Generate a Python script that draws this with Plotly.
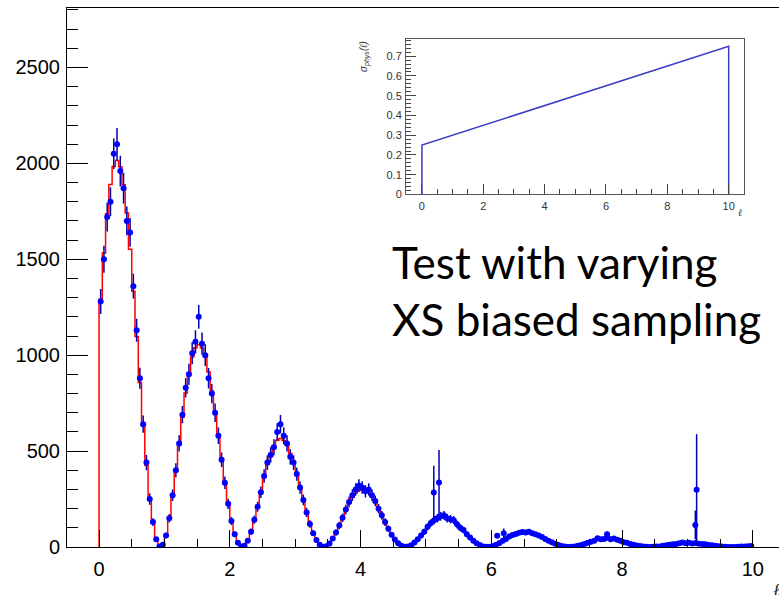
import numpy as np
import plotly.graph_objects as go

# ---------------- data ----------------
bin_width = 0.05  # histogram bins on [0, 10]

red_hist = [
    1291, 1533, 1737, 1890, 1984, 2015, 1982, 1888, 1741, 1552, 1333, 1097, 858, 630, 426, 254, 124, 39, 2, 11, 62, 148, 263, 394, 531,
    676, 803, 909, 990, 1039, 1055, 1038, 989, 912, 813, 698, 574, 449, 330, 223, 133, 65, 21, 1, 6, 32, 78, 138, 206, 278,
    362, 430, 487, 529, 556, 565, 555, 529, 488, 435, 373, 307, 240, 177, 119, 71, 35, 11, 1, 3, 17, 42, 74, 110, 149,
    192, 228, 258, 281, 295, 300, 295, 281, 259, 231, 198, 163, 128, 94, 63, 38, 18, 6, 0, 2, 9, 22, 39, 59, 79,
    100, 119, 135, 147, 154, 156, 154, 146, 135, 120, 103, 85, 67, 49, 33, 20, 10, 3, 0, 1, 5, 12, 20, 31, 41,
    51, 61, 69, 75, 79, 80, 79, 75, 69, 62, 53, 43, 34, 25, 17, 10, 5, 2, 0, 0, 2, 6, 10, 16, 21,
    26, 30, 34, 37, 39, 40, 39, 37, 35, 31, 26, 22, 17, 12, 8, 5, 2, 1, 0, 0, 1, 3, 5, 8, 11,
    13, 16, 18, 20, 21, 21, 20, 20, 18, 16, 14, 11, 9, 7, 4, 3, 1, 0, 0, 0, 1, 2, 3, 4, 5,
]

blue_vals = [
    1280, 1500, 1720, 1800, 2050, 2100, 1960, 1870, 1700, 1640, 1360, 1130, 880, 640, 440, 250, 130, 40, 3, 12, 60, 150, 270, 400, 540,
    690, 830, 900, 1010, 1070, 1200, 1060, 1000, 880, 800, 700, 580, 455, 335, 225, 135, 66, 22, 2, 7, 33, 80, 142, 210, 285,
    370, 440, 480, 520, 600, 640, 580, 540, 470, 440, 380, 310, 245, 180, 120, 72, 36, 12, 1, 4, 18, 44, 76, 112, 152,
    195, 235, 270, 300, 320, 310, 290, 300, 270, 240, 200, 165, 130, 95, 64, 39, 19, 6, 1, 2, 9, 23, 40, 60, 80,
    105, 125, 140, 150, 160, 165, 150, 145, 140, 118, 100, 88, 66, 50, 33, 20, 10, 3, 1, 1, 5, 12, 21, 32, 42,
    55, 63, 68, 74, 78, 76, 80, 72, 66, 60, 52, 42, 33, 25, 17, 10, 5, 2, 0, 1, 3, 6, 10, 16, 22,
    27, 33, 45, 40, 42, 48, 40, 44, 38, 33, 25, 22, 16, 12, 8, 5, 2, 1, 0, 1, 2, 3, 6, 9, 12,
    14, 15, 19, 24, 20, 22, 18, 21, 17, 16, 14, 11, 9, 6, 4, 3, 1, 0, 0, 0, 1, 2, 3, 4, 5,
]

blue_errs = [
    65, 70, 75, 75, 80, 85, 80, 80, 75, 75, 65, 60, 55, 45, 40, 30, 20, 12, 3, 6, 14, 22, 30, 36, 42,
    45, 50, 55, 57, 60, 62, 58, 57, 53, 50, 48, 43, 38, 33, 27, 21, 15, 8, 3, 5, 10, 16, 21, 26, 30,
    35, 38, 40, 42, 45, 48, 44, 42, 40, 38, 35, 32, 28, 24, 20, 15, 11, 6, 2, 4, 8, 12, 16, 19, 22,
    25, 28, 30, 32, 33, 33, 32, 32, 30, 28, 25, 23, 20, 17, 14, 11, 8, 5, 2, 3, 6, 9, 11, 14, 16,
    18, 20, 21, 22, 23, 23, 22, 22, 21, 20, 18, 17, 15, 12, 10, 8, 6, 3, 1, 2, 4, 6, 8, 10, 12,
    12, 12, 13, 13, 14, 14, 14, 13, 13, 12, 11, 10, 9, 8, 6, 5, 3, 2, 1, 1, 2, 3, 5, 6, 7,
    8, 9, 10, 10, 10, 11, 10, 10, 10, 9, 8, 7, 6, 5, 4, 3, 2, 1, 1, 1, 2, 2, 3, 4, 5,
    5, 6, 6, 7, 6, 7, 6, 6, 6, 5, 5, 4, 4, 3, 3, 2, 1, 1, 1, 1, 1, 2, 2, 2, 3,
]

# isolated high-weight entries (large error bars)
spike_ell = [5.12, 5.20, 6.09, 6.19, 7.77, 9.12, 9.14]
spike_vals = [284, 336, 59, 72, 66, 115, 298]
spike_errs = [140, 170, 12, 25, 15, 75, 290]

# inset: sigma_phys(l)
inset_ell = [0, 0, 10, 10]
inset_sigma = [0, 0.25, 0.75, 0]

x_tick_labels = ["0", "2", "4", "6", "8", "10"]
y_tick_labels = ["0", "500", "1000", "1500", "2000", "2500"]

# ---------------- figure ----------------
n = len(red_hist)
edges = np.arange(n + 1) * bin_width
centers = edges[:-1] + bin_width / 2

step_x = [0.0] + list(edges[:-1]) + [edges[-1], edges[-1]]
step_y = [0] + list(red_hist) + [red_hist[-1], 0]

fig = go.Figure()

fig.add_trace(go.Scatter(
    x=step_x, y=step_y, mode="lines", line=dict(color="#ff0000", width=1.5, shape="hv"),
    hoverinfo="skip", showlegend=False, xaxis="x", yaxis="y"))

fig.add_trace(go.Scatter(
    x=centers, y=blue_vals, mode="markers",
    marker=dict(color="#0000ff", size=6),
    error_y=dict(type="data", array=blue_errs, color="#0000b0", thickness=1.5, width=0),
    showlegend=False, xaxis="x", yaxis="y"))

fig.add_trace(go.Scatter(
    x=spike_ell, y=spike_vals, mode="markers",
    marker=dict(color="#0000ff", size=6),
    error_y=dict(type="data", array=spike_errs, color="#0000b0", thickness=1.5, width=0),
    showlegend=False, xaxis="x", yaxis="y"))

fig.add_trace(go.Scatter(
    x=inset_ell, y=inset_sigma, mode="lines", line=dict(color="#3b3bc4", width=1.5),
    showlegend=False, xaxis="x2", yaxis="y2"))

axis_font = dict(family="Liberation Sans, Arial, sans-serif", size=20, color="black")
inset_font = dict(family="Liberation Sans, Arial, sans-serif", size=11, color="#333333")

fig.update_layout(
    width=779, height=595, autosize=False,
    margin=dict(l=67, r=0, t=8, b=48),
    paper_bgcolor="white", plot_bgcolor="white",
    xaxis=dict(
        domain=[0, 1], range=[-0.49, 10.40],
        tickmode="array", tickvals=[0, 2, 4, 6, 8, 10], ticktext=x_tick_labels,
        ticks="inside", ticklen=17, tickwidth=1, tickcolor="black",
        minor=dict(dtick=0.5, tick0=0, ticks="inside", ticklen=8, tickwidth=1, tickcolor="black", showgrid=False),
        showline=True, linecolor="black", linewidth=1, mirror=True,
        showgrid=False, zeroline=False, tickfont=axis_font, ticklabelstandoff=4,
    ),
    yaxis=dict(
        domain=[0, 1], range=[0, 2810],
        tickmode="array", tickvals=[0, 500, 1000, 1500, 2000, 2500], ticktext=y_tick_labels,
        ticks="inside", ticklen=21, tickwidth=1, tickcolor="black",
        minor=dict(dtick=100, tick0=0, ticks="inside", ticklen=11, tickwidth=1, tickcolor="black", showgrid=False),
        showline=True, linecolor="black", linewidth=1, mirror=False,
        showgrid=False, zeroline=False, tickfont=axis_font, ticklabelstandoff=2,
    ),
    xaxis2=dict(
        domain=[0.4761, 0.9513], anchor="y2", range=[-0.52, 10.51],
        dtick=2, tick0=0, ticks="inside", ticklen=10, tickwidth=1, tickcolor="#444444",
        minor=dict(dtick=0.5, tick0=0, ticks="inside", ticklen=5, tickwidth=1, tickcolor="#444444", showgrid=False),
        showline=True, linecolor="#555555", linewidth=1, mirror=True,
        showgrid=False, zeroline=False, tickfont=inset_font, ticklabelstandoff=1,
    ),
    yaxis2=dict(
        domain=[0.6540, 0.9425], anchor="x2", range=[0, 0.787],
        dtick=0.1, tick0=0, ticks="inside", ticklen=10, tickwidth=1, tickcolor="#444444",
        minor=dict(dtick=0.02, tick0=0, ticks="inside", ticklen=5, tickwidth=1, tickcolor="#444444", showgrid=False),
        showline=True, linecolor="#555555", linewidth=1, mirror=True,
        showgrid=False, zeroline=False, tickfont=inset_font, ticklabelstandoff=1,
    ),
    annotations=[
        dict(text="Test with varying<br>XS biased sampling", xref="paper", yref="paper",
             x=0.4537, y=0.475, xanchor="left", yanchor="middle", align="left", showarrow=False,
             font=dict(family="Lato, Carlito, sans-serif", size=44, color="black")),
        dict(text="<i>ℓ</i>", xref="paper", yref="paper", x=0.997, y=-0.078,
             xanchor="center", yanchor="middle", showarrow=False,
             font=dict(family="DejaVu Serif, serif", size=18, color="#222222")),
        dict(text="<i>σ<sub>phys</sub>(ℓ)</i>", xref="paper", yref="paper", x=0.4185, y=0.911,
             xanchor="center", yanchor="middle", textangle=-90, showarrow=False,
             font=dict(family="Liberation Sans, Arial, sans-serif", size=10, color="#333333")),
        dict(text="<i>ℓ</i>", xref="paper", yref="paper", x=0.945, y=0.6215,
             xanchor="center", yanchor="middle", showarrow=False,
             font=dict(family="DejaVu Serif, serif", size=10, color="#333333")),
    ],
)

fig.write_html("out.html")
